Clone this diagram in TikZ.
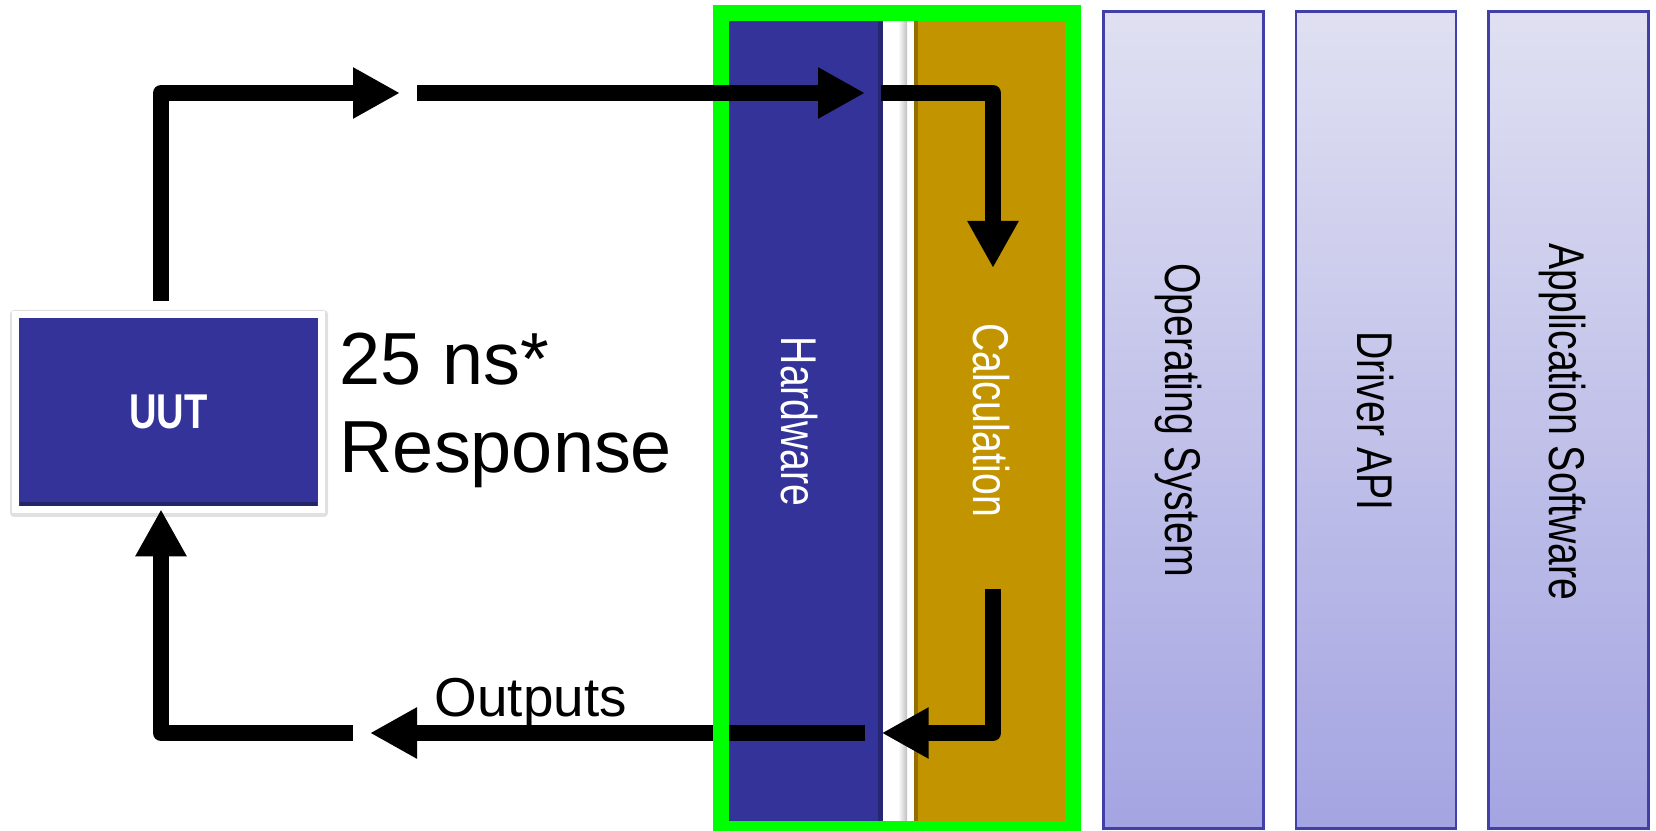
\documentclass[tikz,border=0pt]{standalone}
\usepackage{fontspec}
\setmainfont{Liberation Sans}
\newfontfamily\narrowsf[FakeStretch=0.78]{Liberation Sans}
\usetikzlibrary{arrows.meta, shadows}

\definecolor{uutblue}{HTML}{333399}
\definecolor{calcgold}{HTML}{C29400}
\definecolor{framegreen}{HTML}{00FF00}
\definecolor{layerline}{HTML}{4040A8}
\definecolor{layertop}{HTML}{E0E0F2}
\definecolor{layerbot}{HTML}{A4A4E2}

\begin{document}
\begin{tikzpicture}[
    wire/.style={line width=0.16cm, line join=round},
    flow/.style={wire, -{Triangle[length=0.47cm,width=0.48cm]}},
    uutbox/.style={fill=uutblue, draw=white, line width=0.07cm, minimum width=3.06cm, minimum height=1.95cm,
        text=white, font=\narrowsf\bfseries\fontsize{13.9}{16}\selectfont},
    bigtext/.style={anchor=base west, inner sep=0pt, font=\fontsize{21}{25}\selectfont},
    layer/.style={draw=layerline, line width=0.7pt, top color=layertop, bottom color=layerbot,
        minimum width=1.6cm, minimum height=8.17cm, inner sep=0pt},
    layertext/.style={rotate=-90, anchor=base, inner sep=0pt, font=\narrowsf\fontsize{14.3}{17}\selectfont},
]
\useasboundingbox (0,0) rectangle (16.56,8.31);

% Hardware and calculation bars
\node[fill=uutblue, minimum width=1.54cm, minimum height=8.0cm, inner sep=0pt] (hw) at (8.06,4.10) {};
\fill[uutblue!75!black] (8.78,0.10) rectangle (8.83,8.10);
\shade[left color=white, right color=black!25] (8.98,0.10) rectangle (9.07,8.10);
\node[fill=calcgold, minimum width=1.51cm, minimum height=8.0cm, inner sep=0pt] (calc) at (9.895,4.10) {};
\fill[calcgold!75!black] (9.14,0.10) rectangle (9.18,8.10);
\node[layertext, text=white] (hwlabel) at (7.817,4.093) {Hardware};
\node[layertext, text=white] (calclabel) at (9.733,4.11) {Calculation};

% Software layers
\node[layer] (os) at (11.835,4.11) {};
\node[layer] (api) at (13.76,4.11) {};
\node[layer] (app) at (15.687,4.11) {};
\node[layertext] (oslabel) at (11.65,4.11) {Operating System};
\node[layertext] (apilabel) at (13.573,4.10) {Driver API};
\node[layertext] (applabel) at (15.493,4.09) {Application Software};

% UUT and response time
\fill[black!12, rounded corners=0.04cm] (0.10,3.14) rectangle (3.28,5.21);
\node[uutbox] (uut) at (1.683,4.193) {UUT};
\fill[uutblue!70!black] (0.20,3.25) rectangle (3.17,3.29);
\node[bigtext] (resptime) at (3.39,4.46) {25 ns*};
\node[bigtext] (resp) at (3.39,3.58) {Response};

% Corner points of the loop
\coordinate (uuttop) at (1.61,5.30);
\coordinate (topleft) at (1.61,7.38);
\coordinate (intip) at (4.00,7.38);
\coordinate (inrun) at (4.17,7.38);
\coordinate (hwtip) at (8.65,7.38);
\coordinate (calcin) at (8.81,7.38);
\coordinate (topright) at (9.93,7.38);
\coordinate (calctip) at (9.93,5.63);
\coordinate (calcout) at (9.93,2.42);
\coordinate (botright) at (9.93,0.98);
\coordinate (hwouttip) at (8.817,0.98);
\coordinate (outrun) at (8.65,0.98);
\coordinate (outtip) at (3.70,0.98);
\coordinate (backrun) at (3.527,0.98);
\coordinate (botleft) at (1.61,0.98);
\coordinate (uutbot) at (1.61,3.217);

% Outputs (runs under the frame)
\draw[flow] (outrun) -- (outtip);
\node[anchor=base west, inner sep=0pt, font=\fontsize{15.6}{18}\selectfont] (outlabel) at (4.34,1.143) {Outputs};

% FPGA frame
\draw[framegreen, line width=0.16cm] (7.21,0.023) rectangle (10.73,8.18);

% Inputs and loop back
\draw[flow] (uuttop) -- (topleft) -- (intip);
\draw[flow] (inrun) -- (hwtip);
\draw[flow] (calcin) -- (topright) -- (calctip);
\draw[flow] (calcout) -- (botright) -- (hwouttip);
\draw[flow] (backrun) -- (botleft) -- (uutbot);
\end{tikzpicture}
\end{document}
